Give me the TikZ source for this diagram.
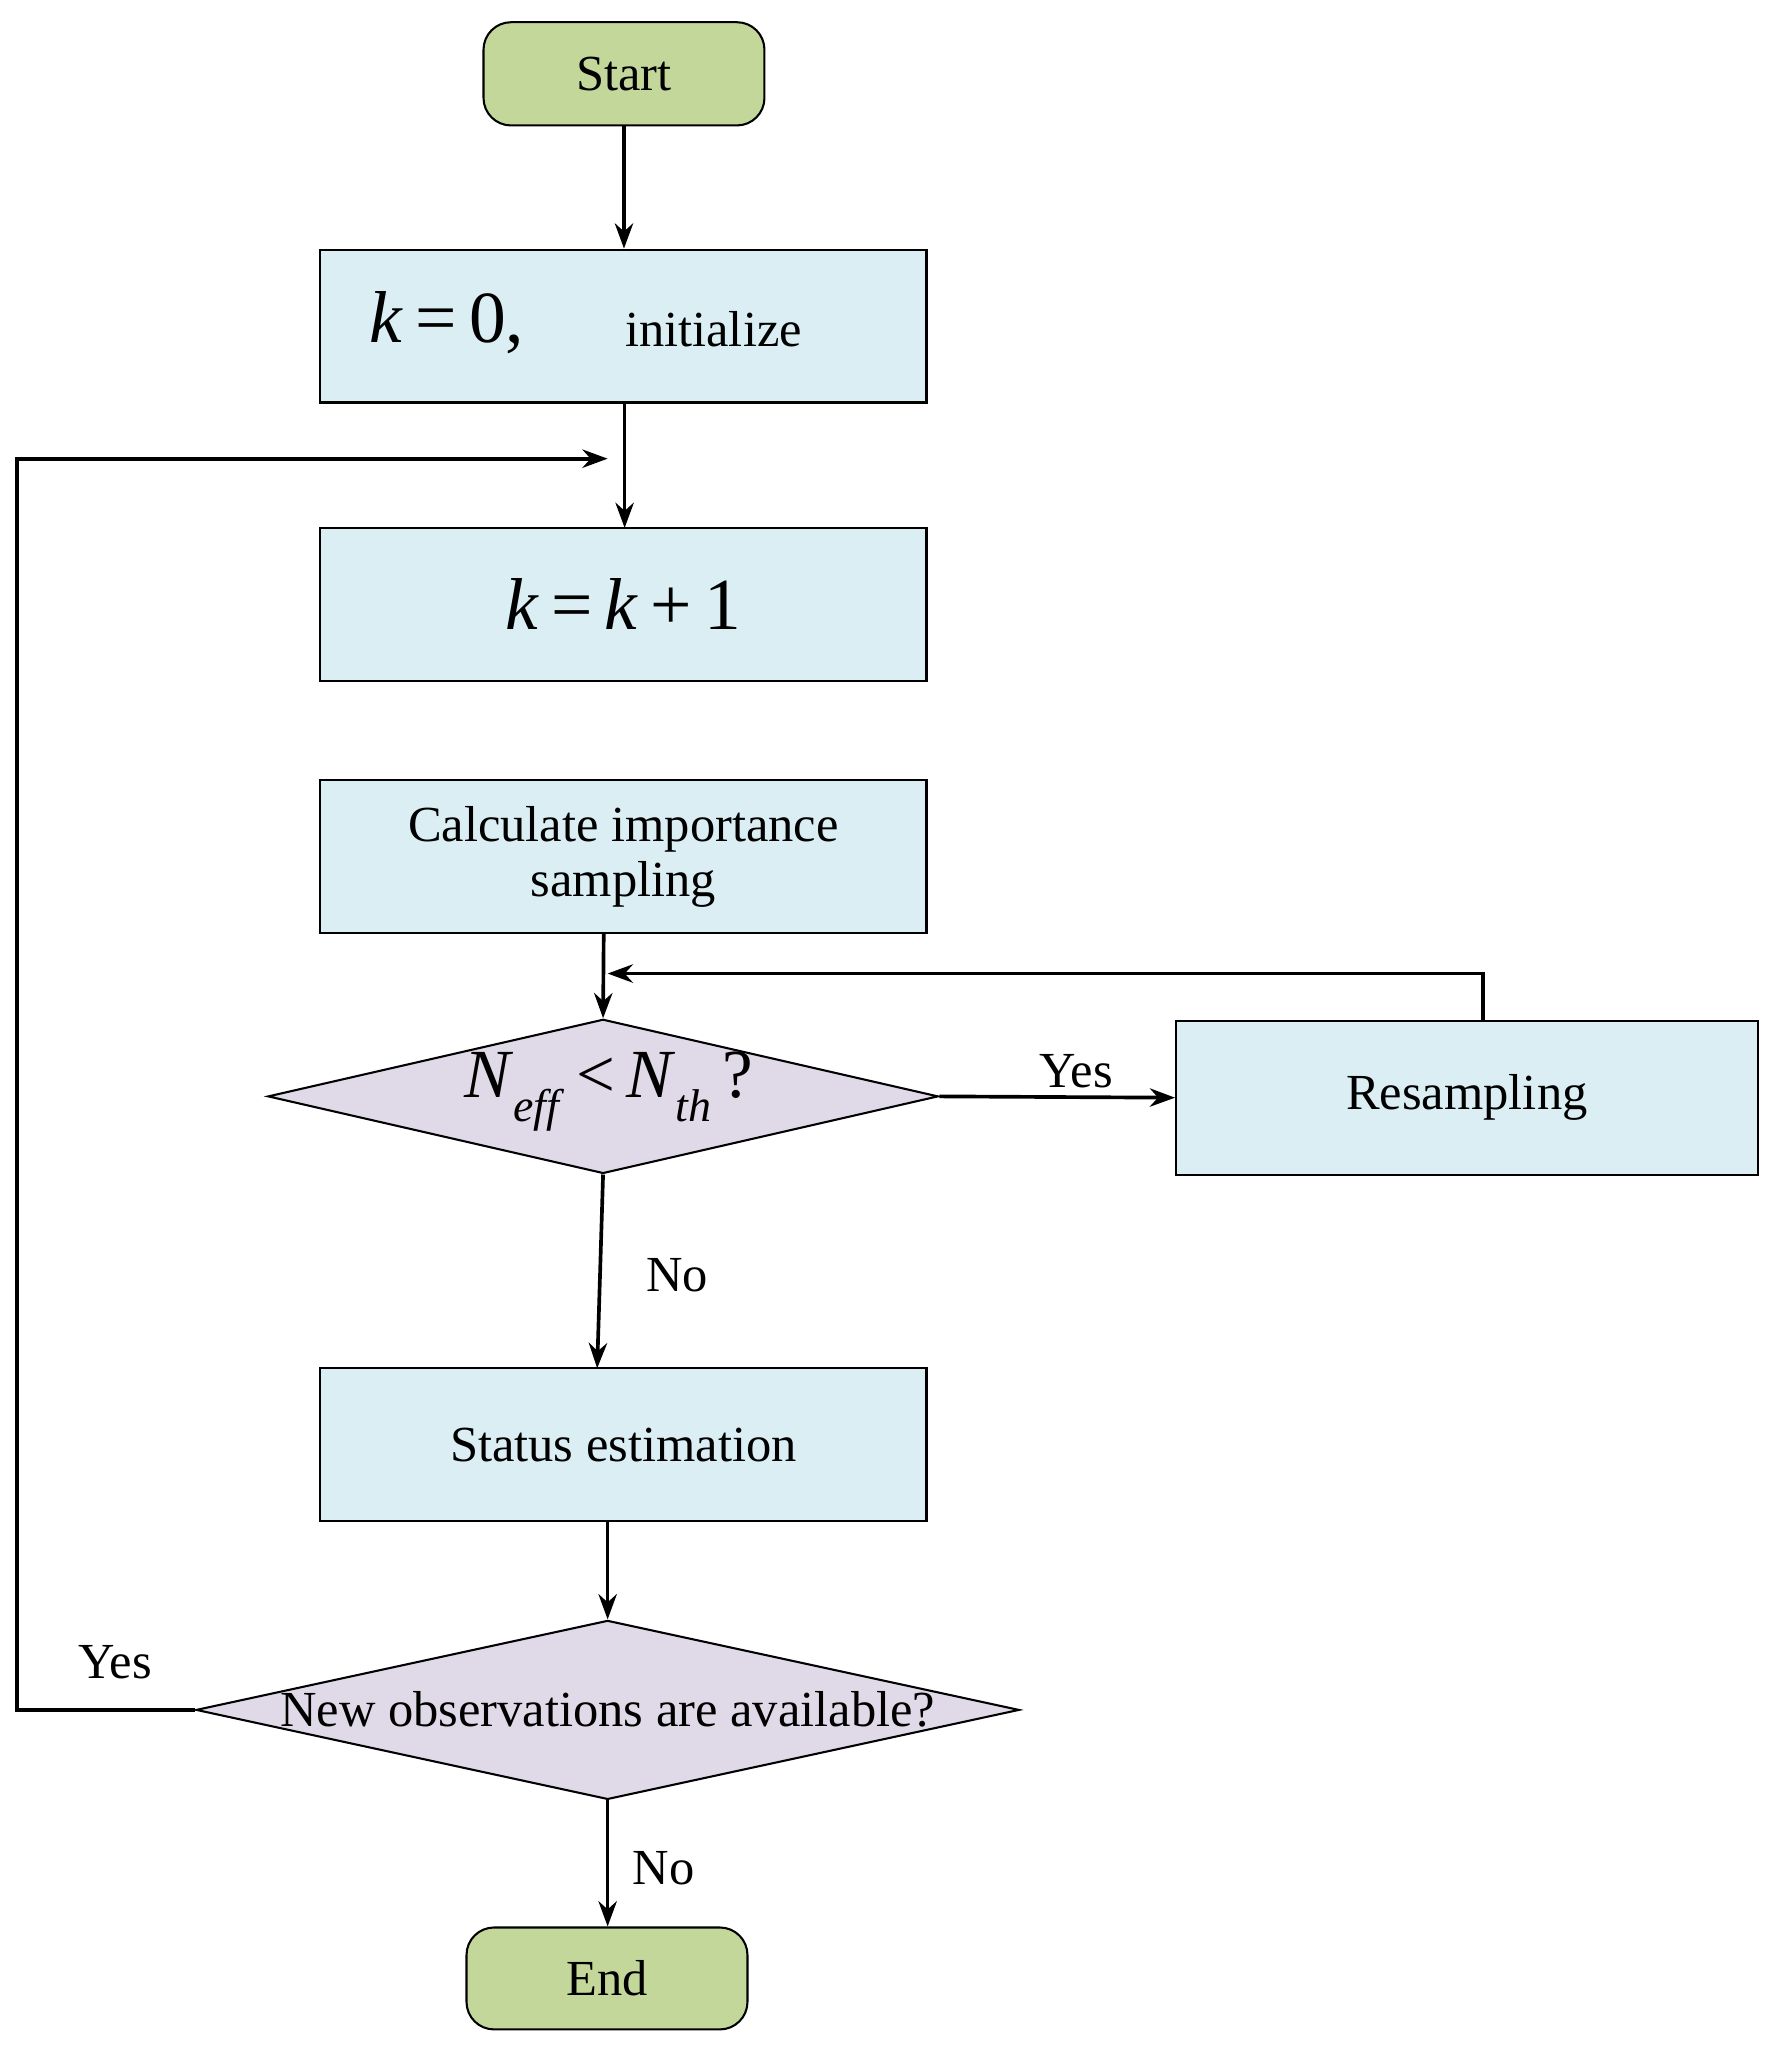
\documentclass[tikz,border=0pt]{standalone}
\usepackage{fontspec}
\setmainfont{Liberation Serif}
\usetikzlibrary{shapes.geometric,arrows.meta}
\definecolor{gfill}{RGB}{196,215,155}
\definecolor{bfill}{RGB}{218,238,243}
\definecolor{dfill}{RGB}{224,218,232}
\begin{document}
\begin{tikzpicture}[x=0.02cm,y=-0.02cm,
  every node/.style={font=\fontsize{22}{26}\selectfont},
  term/.style={draw,line width=0.9pt,fill=gfill,rounded corners=12pt,minimum width=215*0.02cm,minimum height=79*0.02cm,inner sep=0pt},
  box/.style={draw,line width=0.9pt,fill=bfill,minimum width=464*0.02cm,minimum height=117*0.02cm,inner sep=0pt,align=center},
  dia/.style={draw,line width=0.9pt,fill=dfill,diamond,aspect=#1,inner sep=0pt},
  arr/.style={-{Stealth[length=11pt,width=8pt]},line width=1.6pt},
  ln/.style={line width=1.6pt}]
\useasboundingbox (0,0) rectangle (1357,1568);
\node[term] (start) at (477.5,56.5) {Start};
\node[box] (init) at (477,249.5) {};
\node at (342,247) {\fontsize{32}{36}\selectfont\textit{k}\,=\,0,};
\node at (546,252) {initialize};
\node[box] (inc) at (477,462.5) {\fontsize{32}{36}\selectfont\textit{k}\,=\,\textit{k}\,+\,1};
\node[box] (calc) at (477,655.5) {Calculate importance\\[-2pt]sampling};
\node[dia=4.35,minimum width=513*0.02cm,minimum height=118*0.02cm] (d1) at (461.5,839) {};
\node at (466,835) {\fontsize{30}{34}\selectfont\textit{N}\raisebox{-0.35em}{\fontsize{20}{22}\selectfont\textit{eff}}\,<\,\textit{N}\raisebox{-0.35em}{\fontsize{20}{22}\selectfont\textit{th}}\,?};
\node[box,minimum width=445*0.02cm,minimum height=118*0.02cm] (res) at (1122.5,840) {Resampling};
\node[box] (stat) at (477,1105.5) {Status estimation};
\node[dia=4.6,minimum width=630*0.02cm,minimum height=137*0.02cm] (d2) at (465,1308.5) {};
\node at (465,1308) {New observations are available?};
\node[term,minimum height=78*0.02cm] (end) at (464.5,1514) {End};
\coordinate (j1) at (478,351);
\coordinate (j2) at (465,745);
\draw[arr] (start) -- (init.north -| start);
\draw[arr] (478,308) -- (478,404);
\draw[arr] (d2.west) -- (13,1308.5) -- (13,351) -- (465,351);
\draw[arr] (462,714) -- (d1.north);
\draw[arr] (1135,781) -- (1135,745) -- (j2);
\draw[arr] (d1.east) -- node[above,pos=0.58]{Yes} (res.west);
\draw[arr] (d1.south) -- (457,1047);
\node at (518,976) {No};
\draw[arr] (465,1164) -- (d2.north);
\draw[arr] (d2.south) -- (end.north -| d2.south);
\node at (508,1430) {No};
\node at (88,1272) {Yes};
\end{tikzpicture}
\end{document}
